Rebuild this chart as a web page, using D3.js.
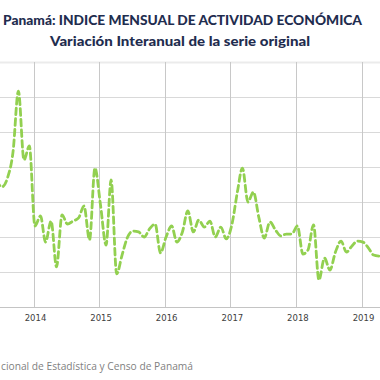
<!DOCTYPE html>
<html>
<head>
<meta charset="utf-8">
<script src="https://cdn.jsdelivr.net/npm/d3@7"></script>
<style>
  html, body { margin: 0; padding: 0; background: #fff; }
  svg { display: block; }
</style>
</head>
<body>
<svg id="chart" width="380" height="380"></svg>
<script>
// ---- data (monthly, Jun 2013 .. Apr 2019) ----
const title = "Panamá: INDICE MENSUAL DE ACTIVIDAD ECONÓMICA";
const subtitle = "Variación Interanual de la serie original";
const source = "cional de Estadística y Censo de Panamá";
const startYear = 2013, startMonth = 5; // June 2013 (0-based month)
const values = [
  7.26, 6.86, 7.37, 8.86, 12.34, 8.40, 9.20,        // Jun-Dec 2013
  4.63, 5.20, 3.71, 4.91, 2.29, 5.26, 4.74, 4.91, 5.09, 5.77, 3.83, 7.94, // 2014
  5.83, 3.54, 7.26, 1.89, 2.97, 4.00, 4.34, 4.29, 4.00, 4.46, 4.74, 3.09, // 2015
  4.00, 4.63, 3.71, 4.29, 5.49, 4.29, 4.97, 4.57, 4.91, 4.00, 4.57, 3.89, // 2016
  4.69, 6.57, 7.94, 6.00, 6.57, 5.09, 3.94, 4.86, 4.40, 4.06, 4.17, 4.17, // 2017
  4.63, 3.03, 3.26, 4.69, 1.54, 2.80, 2.11, 3.14, 3.77, 3.14, 3.49, 3.77, // 2018
  3.71, 3.37, 2.97, 2.91                                                  // 2019
];
const yearTicks = [2014, 2015, 2016, 2017, 2018, 2019];
const yTicks = [0, 2, 4, 6, 8, 10, 12, 14];

const data = values.map((v, i) => ({ date: new Date(startYear, startMonth + i, 9), value: v }));

const svg = d3.select("#chart");
const W = 380, H = 380;

const x = d3.scaleTime()
  .domain([new Date(2014, 0, 1), new Date(2019, 0, 1)])
  .range([33.5, 361.5]);
const y = d3.scaleLinear().domain([0, 14]).range([307, 62]);

// horizontal gridlines
svg.append("g").selectAll("line").data(yTicks).join("line")
  .attr("x1", 0).attr("x2", W)
  .attr("y1", d => Math.round(y(d)) + 0.5).attr("y2", d => Math.round(y(d)) + 0.5)
  .attr("stroke", d => d === 14 ? "#ebebeb" : (d === 0 ? "#c4c4c4" : "#d9d9d9"))
  .attr("stroke-width", d => d === 14 ? 2 : 1);

// vertical gridlines at years
svg.append("g").selectAll("line").data(yearTicks).join("line")
  .attr("x1", d => Math.round(x(new Date(d, 0, 1))) + 0.5)
  .attr("x2", d => Math.round(x(new Date(d, 0, 1))) + 0.5)
  .attr("y1", y(14)).attr("y2", y(0))
  .attr("stroke", "#c8c8c8").attr("stroke-width", 1);

// x axis labels
const xAxis = d3.axisBottom(x)
  .tickValues(yearTicks.map(d => new Date(d, 0, 1)))
  .tickFormat(d3.timeFormat("%Y"))
  .tickSize(0).tickPadding(8);
const gx = svg.append("g").attr("transform", `translate(1.5,${y(0)})`).call(xAxis);
gx.select(".domain").remove();
gx.selectAll("text")
  .attr("font-family", "'DejaVu Sans', sans-serif")
  .attr("font-size", 8.5)
  .attr("fill", "#404040");

// line
const line = d3.line()
  .x(d => x(d.date))
  .y(d => y(d.value))
  .curve(d3.curveMonotoneX);
svg.append("path")
  .datum(data)
  .attr("d", line)
  .attr("fill", "none")
  .attr("stroke", "#92d050")
  .attr("stroke-width", 2.8)
  .attr("stroke-dasharray", "6.5,4")
  .attr("stroke-linecap", "round");

// titles
svg.append("text")
  .attr("x", 182.5).attr("y", 24.5)
  .attr("text-anchor", "middle")
  .attr("font-family", "Lato, 'DejaVu Sans', sans-serif")
  .attr("font-weight", 900)
  .attr("font-size", 13)
  .attr("fill", "#1f2d4f")
  .attr("textLength", 359).attr("lengthAdjust", "spacingAndGlyphs")
  .text(title);
svg.append("text")
  .attr("x", 180).attr("y", 46)
  .attr("text-anchor", "middle")
  .attr("font-family", "Lato, 'DejaVu Sans', sans-serif")
  .attr("font-weight", 900)
  .attr("font-size", 12.5)
  .attr("fill", "#1f2d4f")
  .attr("textLength", 260).attr("lengthAdjust", "spacingAndGlyphs")
  .text(subtitle);

// source (visible part of the cropped footnote)
svg.append("text")
  .attr("x", 1).attr("y", 370)
  .attr("font-family", "'Open Sans', 'DejaVu Sans', sans-serif")
  .attr("font-size", 10)
  .attr("fill", "#7f7f7f")
  .attr("textLength", 192).attr("lengthAdjust", "spacingAndGlyphs")
  .text(source);
</script>
</body>
</html>
